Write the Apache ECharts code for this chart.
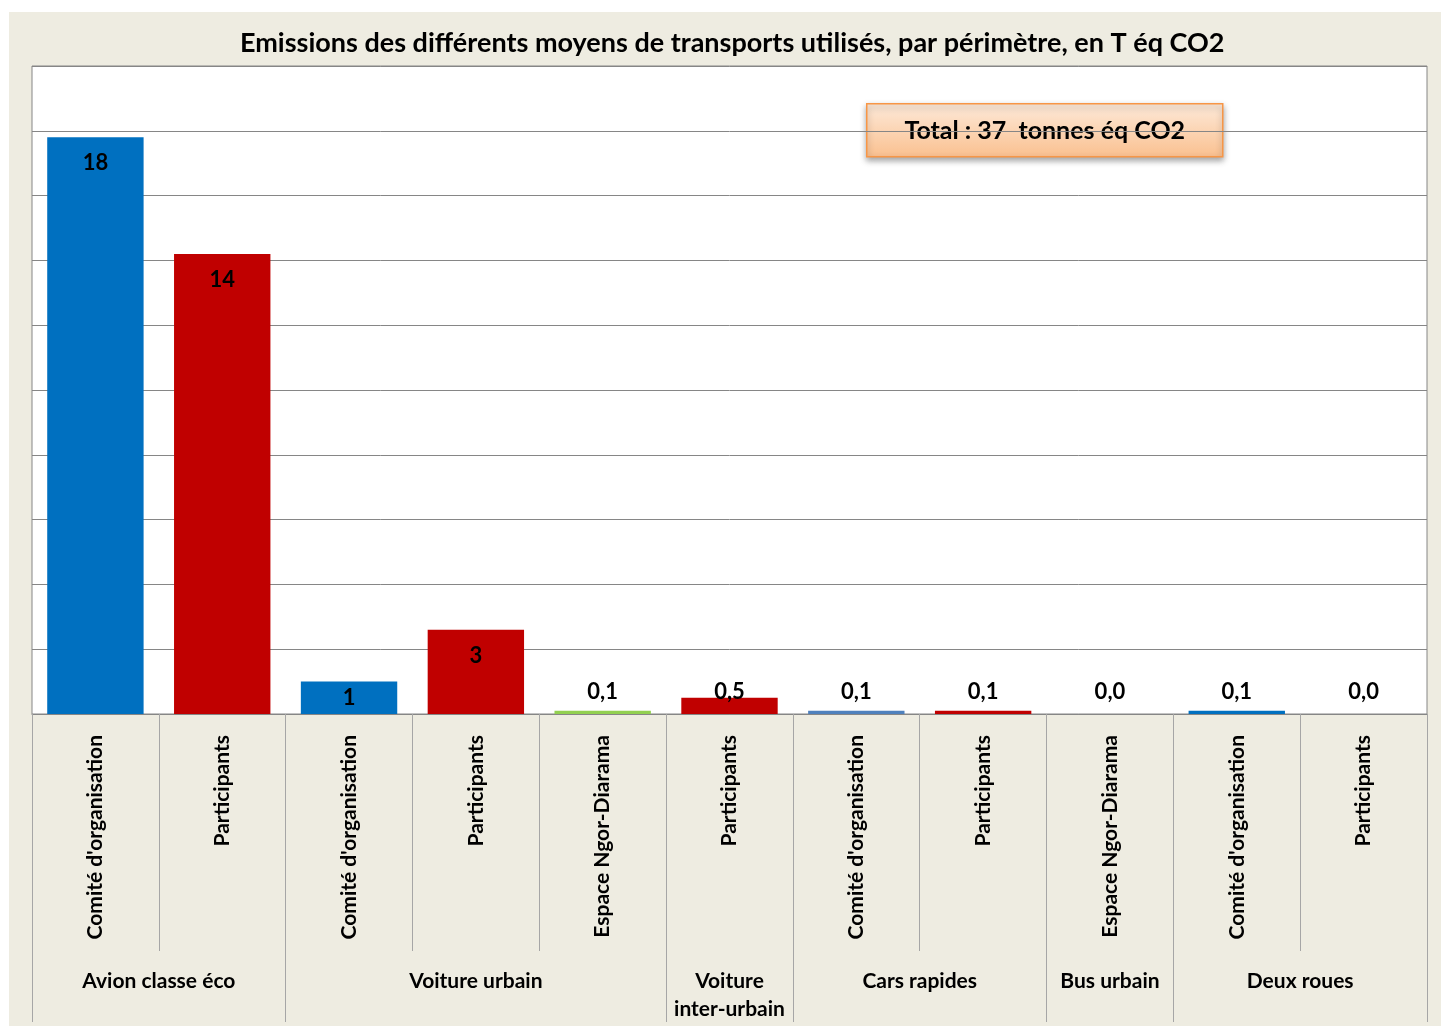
<!DOCTYPE html>
<html>
<head>
<meta charset="utf-8">
<title>Emissions transports</title>
<script src="https://cdn.jsdelivr.net/npm/echarts@6/dist/echarts.min.js"></script>
<style>
	html, body { margin: 0; padding: 0; background: #fff; }
	#report { position: absolute; left: 9px; top: 12px; width: 1432px; height: 1014px; }
</style>
</head>
<body>
<div id="report"></div>
<script>
// données (T éq CO2)
var perimetres = ['Comité d\'organisation', 'Participants', 'Comité d\'organisation', 'Participants', 'Espace Ngor-Diarama',
	'Participants', 'Comité d\'organisation', 'Participants', 'Espace Ngor-Diarama', 'Comité d\'organisation', 'Participants'];
var emissions = [17.8, 14.2, 1.0, 2.6, 0.1, 0.5, 0.1, 0.1, 0.0, 0.1, 0.0];
var moyens = ['Avion classe éco', 'Voiture urbain', 'Voiture\ninter-urbain', 'Cars rapides', 'Bus urbain', 'Deux roues'];
var nbParMoyen = [2, 3, 1, 2, 1, 2];
var yTicks = [0, 20, 2];

var couleurs = ['#0070C0', '#C00000', '#0070C0', '#C00000', '#92D050', '#C00000', '#4F81BD', '#C00000', '#92D050', '#0070C0', '#C00000'];

// bornes et centres des groupes
var bornes = [0], centres = [];
nbParMoyen.forEach(function(n, i) {
	var b = bornes[i];
	bornes.push(b + n);
	centres.push(b + n / 2);
});

var total = Math.round(Math.round(emissions.reduce(function(a, b) { return a + b; }, 0) * 10) / 10);

var police = 'Lato, "Open Sans", sans-serif';

function positionEtiquette(v) {
	if (v >= 2) return { position: 'insideTop', distance: 15 };
	if (v >= 1) return { position: 'inside' };
	return { position: 'insideBottom', distance: 11 };
}

var myChart = echarts.init(document.getElementById('report'));
var option = {
	backgroundColor: '#EEECE1',
	title: {
		text: 'Emissions des différents moyens de transports utilisés, par périmètre, en T éq CO2',
		left: 226,
		top: 13,
		textStyle: { fontFamily: police, fontSize: 27, fontWeight: 'bold', color: '#000' }
	},
	grid: {
		left: 23, top: 54, width: 1395, height: 648,
		show: true, backgroundColor: '#fff', borderColor: '#868686', borderWidth: 1,
		outerBoundsMode: 'none'
	},
	xAxis: [{
		type: 'category',
		data: perimetres,
		axisLine: { lineStyle: { color: '#868686' } },
		axisTick: { show: true, interval: 0, length: 237, lineStyle: { color: '#A6A6A6' } },
		axisLabel: {
			interval: 0, rotate: 90, margin: 21,
			fontFamily: police, fontSize: 21, fontWeight: 'bold', color: '#000'
		}
	}, {
		type: 'value',
		min: 0, max: perimetres.length,
		position: 'bottom',
		axisLine: { show: false },
		splitLine: { show: false },
		axisTick: { show: true, customValues: bornes, length: 308, lineStyle: { color: '#A6A6A6' } },
		axisLabel: {
			customValues: centres, margin: 253,
			fontFamily: police, fontSize: 21, fontWeight: 'bold', color: '#000', lineHeight: 28,
			formatter: function(v) {
				var i = centres.indexOf(v);
				return i >= 0 ? moyens[i] : '';
			}
		}
	}],
	yAxis: {
		type: 'value',
		min: yTicks[0], max: yTicks[1], interval: yTicks[2],
		axisLine: { show: false },
		axisTick: { show: false },
		axisLabel: { show: false },
		splitLine: { lineStyle: { color: '#868686' } }
	},
	series: [{
		type: 'bar',
		xAxisIndex: 0,
		barWidth: '76%',
		data: emissions.map(function(v, i) {
			return {
				value: v,
				itemStyle: { color: couleurs[i] },
				label: positionEtiquette(v)
			};
		}),
		label: {
			show: true,
			fontFamily: police, fontSize: 22, fontWeight: 'bold', color: '#000',
			formatter: function(p) {
				return p.value >= 1 ? String(Math.round(p.value)) : p.value.toFixed(1).replace('.', ',');
			}
		},
		silent: true
	}],
	graphic: [{
		type: 'group',
		left: 857, top: 91,
		children: [{
			type: 'rect',
			shape: { x: 0, y: 0, width: 356, height: 53 },
			style: {
				fill: new echarts.graphic.LinearGradient(0, 0, 0, 1, [
					{ offset: 0, color: '#FDEADA' }, { offset: 1, color: '#FAC08F' }
				]),
				stroke: '#F79646', lineWidth: 1.5,
				shadowBlur: 6, shadowOffsetY: 3, shadowColor: 'rgba(0,0,0,0.35)'
			}
		}, {
			type: 'text',
			x: 178, y: 27,
			style: {
				text: 'Total : ' + total + '  tonnes éq CO2',
				align: 'center', verticalAlign: 'middle',
				font: 'bold 25px ' + police, fill: '#000'
			}
		}]
	}]
};
myChart.setOption(option);
</script>
</body>
</html>
